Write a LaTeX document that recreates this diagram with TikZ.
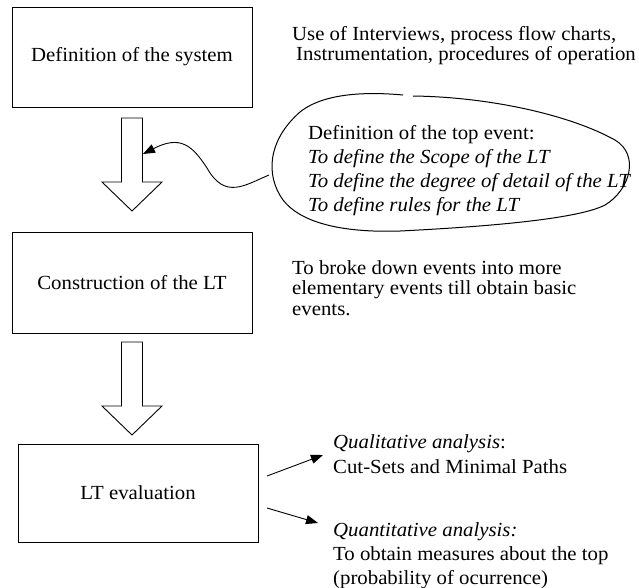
\documentclass[tikz,border=0pt]{standalone}
\usepackage{fontspec}
\setmainfont{Liberation Serif}[FakeStretch=1.04]
\usetikzlibrary{arrows.meta}

\tikzset{
  stagebox/.style={draw, line width=0.9pt, minimum width=240pt, inner sep=0pt},
  note/.style={anchor=base west, inner sep=0pt, align=left, font=\fontsize{20}{20.5}\selectfont},
  bigarrow/.style={draw, line width=0.9pt, fill=white},
  pointer/.style={line width=0.9pt, -{Triangle[length=12pt,width=9pt]}},
  cloudline/.style={line width=1pt}
}

% hollow block arrow: centre x, top of shaft, top of head, tip
\newcommand{\blockarrow}[4]{%
  \draw[bigarrow] (#1-10.5,#2) -- (#1+10.5,#2) -- (#1+10.5,#3) -- (#1+30,#3)
    -- (#1,#4) -- (#1-30,#3) -- (#1-10.5,#3) -- cycle;}

\begin{document}
\begin{tikzpicture}[x=1pt, y=-1pt]
\useasboundingbox (0,0) rectangle (639,587);

% main stages
\node[stagebox, minimum height=100pt, font=\fontsize{20}{24}\selectfont] (sys) at (132,57) {Definition of the system};
\node[stagebox, minimum height=101pt, font=\fontsize{20}{24}\selectfont] (cons) at (132,282.5) {Construction of the LT};
\node[stagebox, minimum height=98pt, font=\fontsize{20}{24}\selectfont] (eval) at (138,493) {LT evaluation};

% flow between stages
\blockarrow{132}{118}{182}{211}
\blockarrow{132}{342}{406}{435}

% side notes (anchored at the baseline of their last line)
\node[note, font=\fontsize{20}{20}\selectfont] (use) at (292,60) {Use of Interviews, process flow charts,\\\hspace*{4pt}Instrumentation, procedures of operation};

\node[note, font=\fontsize{20}{24}\selectfont] (top) at (308,211) {Definition of the top event:\\
  \textit{To define the Scope of the LT}\\
  \textit{To define the degree of detail of the LT}\\
  \textit{To define rules for the LT}};

\node[note] (broke) at (292,315) {To broke down events into more\\elementary events till obtain basic\\events.};

\node[note, font=\fontsize{20}{25}\selectfont] (qual) at (333,473) {\textit{Qualitative analysis}:\\Cut-Sets and Minimal Paths};

\node[note, font=\fontsize{20}{24}\selectfont] (quant) at (333,584) {\textit{Quantitative analysis:}\\To obtain measures about the top\\(probability of ocurrence)};

% outline around the top-event note (open at the top)
\draw[cloudline] (413,96) .. controls (490,97) and (570,115) .. (615,140)
  .. controls (640,155) and (630,190) .. (605,205)
  .. controls (580,218) and (500,226) .. (400,231)
  .. controls (340,233) and (300,222) .. (283,200)
  .. controls (265,175) and (268,140) .. (300,112)
  .. controls (325,92) and (370,92) .. (403,95);

\coordinate (cloudL) at (269,175);
\coordinate (shaft) at (143,154);
\draw[pointer] (cloudL) .. controls (245,185) and (225,200) .. (207,168)
  .. controls (192,145) and (180,135) .. (shaft);

% evaluation outcomes
\coordinate (e1) at (267,476);
\coordinate (q1) at (323,455);
\coordinate (e2) at (267,508);
\coordinate (q2) at (318,523);
\draw[pointer] (e1) -- (q1);
\draw[pointer] (e2) -- (q2);
\end{tikzpicture}
\end{document}
